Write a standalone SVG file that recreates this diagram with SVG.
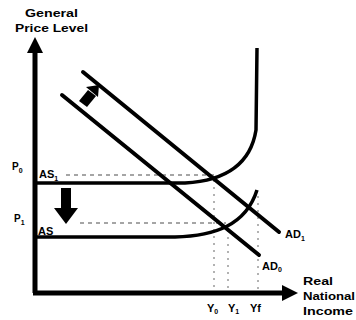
<svg xmlns="http://www.w3.org/2000/svg" width="356" height="320" viewBox="0 0 356 320">
<style>
.t{font-family:"Liberation Sans",Arial,sans-serif;font-weight:bold;fill:#000}
.ax{stroke:#000;stroke-width:5;fill:none}
.ad{stroke:#000;stroke-width:4;fill:none;stroke-linecap:round}
.as{stroke:#000;stroke-width:3.5;fill:none}
.dash{stroke:#888;stroke-width:1.5;fill:none;stroke-dasharray:4 4}
.dot{stroke:#999;stroke-width:1.5;fill:none;stroke-dasharray:2 5}
</style>
<rect width="356" height="320" fill="#fff"/>
<g id="axes">
<line class="ax" x1="35" y1="50" x2="35" y2="293"/>
<polygon points="35,37 27,53 43,53" fill="#000"/>
<line class="ax" x1="33" y1="293" x2="284" y2="293"/>
<polygon points="298,293 282,285 282,301" fill="#000"/>
<text class="t" x="25" y="17" font-size="10" textLength="53" lengthAdjust="spacingAndGlyphs">General</text>
<text class="t" x="15" y="32" font-size="10" textLength="73" lengthAdjust="spacingAndGlyphs">Price Level</text>
<text class="t" x="303" y="285" font-size="10" textLength="30" lengthAdjust="spacingAndGlyphs">Real</text>
<text class="t" x="303" y="300" font-size="10" textLength="52" lengthAdjust="spacingAndGlyphs">National</text>
<text class="t" x="303" y="315" font-size="10" textLength="50" lengthAdjust="spacingAndGlyphs">Income</text>
</g>
<g id="connectors">
<line class="dash" x1="66" y1="175" x2="214" y2="175"/>
<line class="dash" x1="80" y1="223" x2="226" y2="223"/>
<line class="dot" x1="214" y1="180" x2="214" y2="291"/>
<line class="dot" x1="228" y1="230" x2="228" y2="291"/>
<line class="dot" x1="258" y1="196" x2="258" y2="291"/>
</g>
<g id="AS1">
<path class="as" d="M35,183 L185,183 C220,181 250,168 256,130 L257,48"/>
<text class="t" x="39" y="178" font-size="11">AS<tspan font-size="7" dy="3">1</tspan></text>
</g>
<g id="AS">
<path class="as" d="M35,237 L175,237 C215,236 246,225 257,190"/>
<text class="t" x="38" y="235" font-size="11">AS</text>
</g>
<g id="AD1">
<line class="ad" x1="83" y1="72" x2="279" y2="232"/>
<text class="t" x="285" y="238" font-size="11">AD<tspan font-size="7" dy="3">1</tspan></text>
</g>
<g id="AD0">
<line class="ad" x1="62" y1="95" x2="259" y2="255"/>
<text class="t" x="262" y="270" font-size="11">AD<tspan font-size="7" dy="2">0</tspan></text>
</g>
<g id="P0"><text class="t" x="12" y="170" font-size="10">P<tspan font-size="7" dy="3">0</tspan></text></g>
<g id="P1"><text class="t" x="14" y="222" font-size="10">P<tspan font-size="7" dy="3">1</tspan></text></g>
<g id="shift-down">
<rect x="61" y="188" width="10" height="21" fill="#000"/>
<polygon points="54,208 78,208 66,224" fill="#000"/>
</g>
<g id="shift-up">
<polygon points="86,87 98,97 99,85" fill="#000"/>
<polygon points="88,90 96,96 87,107 79,101" fill="#000"/>
</g>
<g id="Y-labels">
<text class="t" x="207" y="312" font-size="11">Y<tspan font-size="7" dy="2">0</tspan></text>
<text class="t" x="228" y="312" font-size="11">Y<tspan font-size="7" dy="2">1</tspan></text>
<text class="t" x="250" y="312" font-size="11">Yf</text>
</g>
</svg>
